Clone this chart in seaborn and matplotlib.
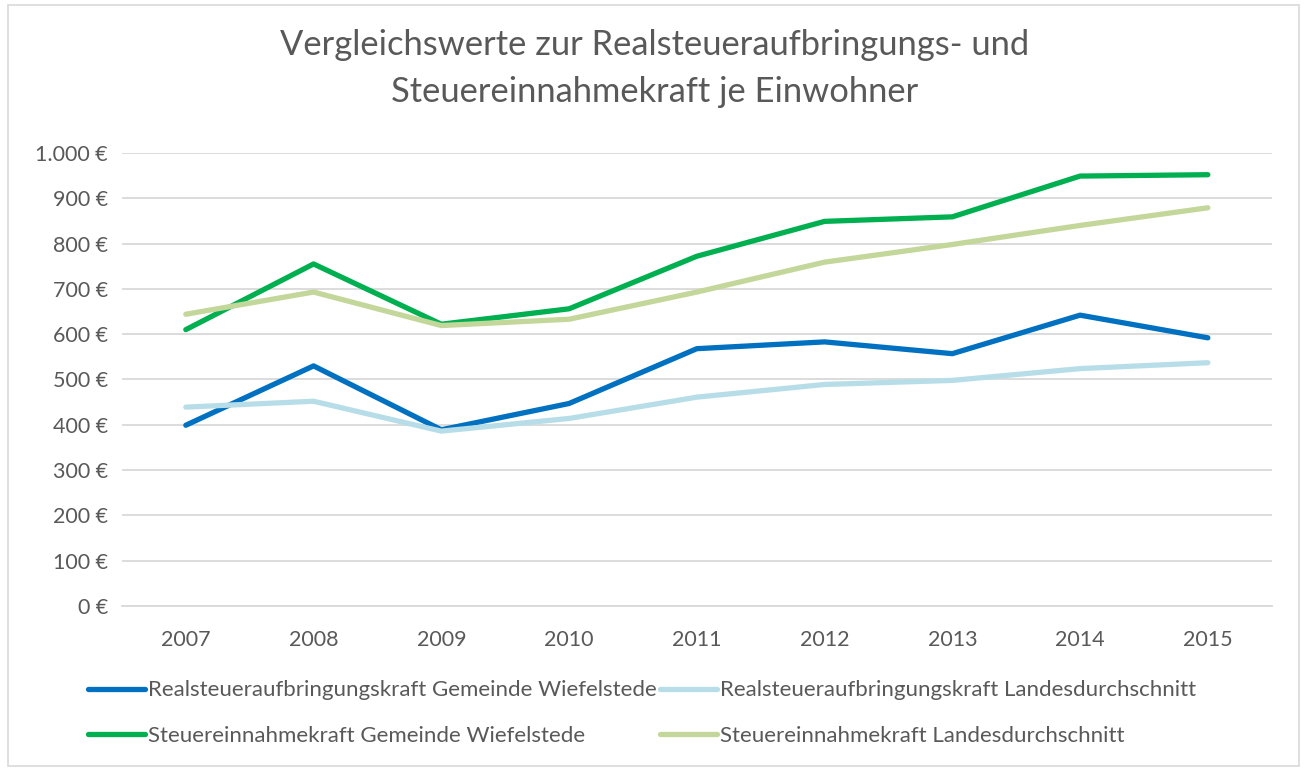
import pandas as pd
import matplotlib.pyplot as plt
import seaborn as sns
from matplotlib.patches import Rectangle
from matplotlib.ticker import FuncFormatter

# Werte je Einwohner
jahre = ["2007", "2008", "2009", "2010", "2011", "2012", "2013", "2014", "2015"]
real_gemeinde = [399, 530, 389, 447, 568, 583, 557, 642, 592]
real_land = [439, 452, 386, 414, 461, 489, 498, 524, 537]
steuer_gemeinde = [610, 755, 622, 656, 772, 849, 859, 949, 952]
steuer_land = [644, 693, 619, 633, 693, 759, 798, 840, 879]

serien = [
    "Realsteueraufbringungskraft Gemeinde Wiefelstede",
    "Realsteueraufbringungskraft Landesdurchschnitt",
    "Steuereinnahmekraft Gemeinde Wiefelstede",
    "Steuereinnahmekraft Landesdurchschnitt",
]
farben = ["#0070C0", "#B7DEE8", "#00B050", "#C4D79B"]

rows = []
for name, werte in zip(serien, [real_gemeinde, real_land, steuer_gemeinde, steuer_land]):
    for j, w in zip(jahre, werte):
        rows.append({"Jahr": j, "Wert": w, "Serie": name})
data = pd.DataFrame(rows)

sns.set_style("white")
plt.rcParams['font.family'] = ['Lato', 'DejaVu Sans']
grau = "#595959"

fig = plt.figure(figsize=(13.07, 7.71), dpi=100)
ax = fig.add_axes([0.0933, 0.214, 0.8797, 0.5876])

sns.lineplot(data=data, x="Jahr", y="Wert", hue="Serie", hue_order=serien,
             palette=farben, linewidth=3.8, ax=ax, sort=False)
for line in ax.lines:
    line.set_solid_capstyle("round")

ax.set_xlim(-0.5, len(jahre) - 0.5)
ax.set_ylim(0, 1000)
ax.set_yticks(range(0, 1001, 100))
ax.yaxis.set_major_formatter(FuncFormatter(lambda v, p: f"{int(v):,} €".replace(",", ".")))
ax.grid(axis="y", color="#d9d9d9", linewidth=1.3)
ax.set_axisbelow(True)
for s in ["left", "right", "top"]:
    ax.spines[s].set_visible(False)
ax.spines["bottom"].set_color("#d9d9d9")
ax.spines["bottom"].set_linewidth(1.3)
ax.tick_params(axis="both", length=0, labelsize=15.5, colors=grau, pad=10)
ax.tick_params(axis="x", pad=17)
ax.set_xlabel("")
ax.set_ylabel("")

handles, labels = ax.get_legend_handles_labels()
ax.get_legend().remove()
order = [0, 2, 1, 3]
fig.legend([handles[i] for i in order], [labels[i] for i in order],
           loc="center", bbox_to_anchor=(0.491, 0.075), ncol=2, frameon=False,
           fontsize=16, labelcolor=grau, handlelength=2.6, handletextpad=0.1,
           columnspacing=0.15, labelspacing=1.15)

fig.suptitle("Vergleichswerte zur Realsteueraufbringungs- und\nSteuereinnahmekraft je Einwohner",
             x=0.501, y=0.962, fontsize=24.8, color=grau, linespacing=1.55)

fig.patches.append(Rectangle((0.006, 0.006), 0.988, 0.988, transform=fig.transFigure,
                             fill=False, edgecolor="#d9d9d9", linewidth=1.2))

fig.savefig("out.png", dpi=100)
